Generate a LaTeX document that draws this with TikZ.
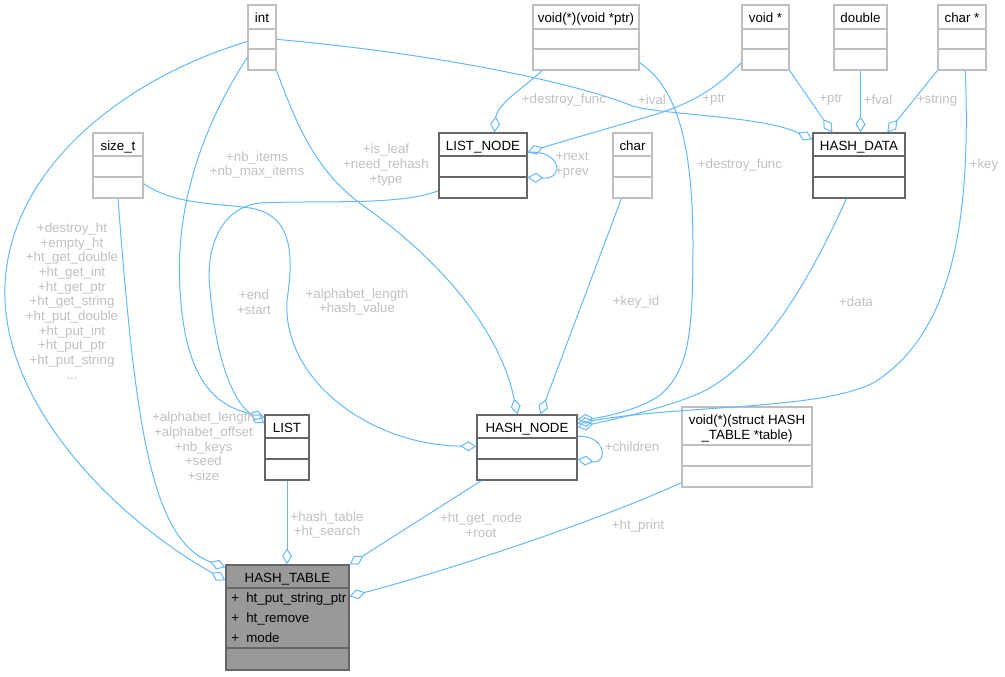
\documentclass[tikz,border=0pt]{standalone}
\usepackage{fontspec}
\setmainfont{Liberation Sans}
\usetikzlibrary{fit,arrows.meta}
\definecolor{edgeblue}{HTML}{63B8FF}
\definecolor{lblgray}{HTML}{C0C0C0}
\definecolor{typeborder}{HTML}{BFBFBF}
\definecolor{clsborder}{HTML}{666666}
\definecolor{htfill}{HTML}{999999}
\newcommand{\umlcls}[8]{%
  \node[draw=#8, line width=1pt, fill=white, inner sep=0pt, fit={(#2,#3) (#4,#5)}] (#1) {};
  \draw[draw=#8, line width=1pt] (#2,#6) -- (#4,#6) (#2,#7) -- (#4,#7);
}
\begin{document}
\begin{tikzpicture}[x=0.75pt,y=-0.75pt,
  edge/.style={draw=edgeblue, line width=0.75pt, -{Diamond[open,length=12pt,width=7.5pt]}},
  lbl/.style={font=\fontsize{10}{11}\selectfont, text=lblgray, align=center, inner sep=0pt},
  hdr/.style={font=\fontsize{10}{12}\selectfont, anchor=base, inner sep=0pt},
  mem/.style={font=\fontsize{10}{12}\selectfont, anchor=base west, inner sep=0pt}]
\useasboundingbox (0,0) rectangle (1005,676);

% ---- boxes
\umlcls{int}{248}{5}{276}{70}{29}{49}{typeborder}
\umlcls{voidfp}{533}{5}{639}{70}{29}{49}{typeborder}
\umlcls{voidptr}{742}{5}{789}{70}{29}{49}{typeborder}
\umlcls{double}{834}{5}{887}{70}{29}{49}{typeborder}
\umlcls{charptr}{938}{5}{986}{70}{29}{49}{typeborder}
\umlcls{sizet}{93}{133}{143}{198}{156}{177}{typeborder}
\umlcls{listnode}{439}{133}{527}{198}{156}{177}{clsborder}
\umlcls{char}{613}{133}{652}{198}{156}{177}{typeborder}
\umlcls{hashdata}{813}{133}{905}{198}{156}{177}{clsborder}
\umlcls{list}{265}{415}{309}{480}{438}{459}{clsborder}
\umlcls{hashnode}{477}{415}{577}{480}{438}{459}{clsborder}
\umlcls{printfp}{682}{407}{812}{487}{445}{466}{typeborder}
\node[draw=clsborder, line width=1pt, fill=htfill, inner sep=0pt, fit={(226,565) (349,670)}] (hashtable) {};
\draw[draw=clsborder, line width=1pt] (226,588) -- (349,588) (226,648) -- (349,648);

% ---- box texts
\node[hdr] (t-int) at (262,22.5) {int};
\node[hdr] (t-voidfp) at (586,22.5) {void(*)(void *ptr)};
\node[hdr] (t-voidptr) at (765.5,22.5) {void *};
\node[hdr] (t-double) at (860.5,22.5) {double};
\node[hdr] (t-charptr) at (962,22.5) {char *};
\node[hdr] (t-sizet) at (118,150.5) {size\_t};
\node[hdr] (t-listnode) at (483,150.5) {LIST\_NODE};
\node[hdr] (t-char) at (632.5,150.5) {char};
\node[hdr] (t-hashdata) at (859,150.5) {HASH\_DATA};
\node[hdr] (t-list) at (287,432.5) {LIST};
\node[hdr] (t-hashnode) at (527,432.5) {HASH\_NODE};
\node[hdr] (t-printfp1) at (747,424.5) {void(*)(struct HASH};
\node[hdr] (t-printfp2) at (747,439.5) {\_TABLE *table)};
\node[hdr] (t-hashtable) at (287.5,582.5) {HASH\_TABLE};
\node[mem] (p1) at (231,602) {+};
\node[mem] (m1) at (246,602) {ht\_put\_string\_ptr};
\node[mem] (p2) at (231,622) {+};
\node[mem] (m2) at (246,622) {ht\_remove};
\node[mem] (p3) at (231,642) {+};
\node[mem] (m3) at (246,642) {mode};

% ---- edges
\draw[edge] ([shift={(0,4)}]int.west) .. controls (120,80) and (10,170) .. (5,285) .. controls (0,400) and (110,515) .. ([shift={(0,16)}]hashtable.north west);
\draw[edge] (sizet.south) .. controls (135,420) and (150,540) .. ([shift={(0,3)}]hashtable.north west);
\draw[edge] ([shift={(0,53)}]int.north west) .. controls (200,130) and (175,210) .. (180,290) .. controls (185,380) and (215,405) .. ([shift={(0,3)}]list.north west);
\draw[edge] ([shift={(0,-8)}]listnode.south west) .. controls (400,206) and (320,200) .. (260,203) .. controls (220,207) and (205,250) .. (210,290) .. controls (215,350) and (230,400) .. ([shift={(0,9)}]list.north west);
\draw[edge] (int.south east) .. controls (300,135) and (320,175) .. (365,207) .. controls (440,260) and (500,330) .. ([shift={(41,0)}]hashnode.north west);
\draw[edge] ([shift={(0,-15)}]sizet.south east) .. controls (175,205) and (215,203) .. (250,208) .. controls (295,215) and (293,260) .. (287,300) .. controls (282,380) and (370,445) .. ([shift={(0,32)}]hashnode.north west);
\draw[edge] ([shift={(10,0)}]voidfp.south west) .. controls (520,90) and (497,105) .. ([shift={(56,0)}]listnode.north west);
\draw[edge] ([shift={(0,-8)}]voidptr.south west) .. controls (715,90) and (690,103) .. (660,113) .. controls (610,128) and (560,142) .. ([shift={(0,20)}]listnode.north east);
\draw[edge] ([shift={(0,35)}]int.north east) .. controls (450,55) and (580,85) .. (630,105) .. controls (655,115) and (760,115) .. ([shift={(0,7)}]hashdata.north west);
\draw[edge] (voidptr.south east) -- ([shift={(20,0)}]hashdata.north west);
\draw[edge] (double.south) -- (double.south |- hashdata.north);
\draw[edge] (charptr.south west) -- ([shift={(75,0)}]hashdata.north west);
\draw[edge] ([shift={(0,-8)}]voidfp.south east) .. controls (680,90) and (692,150) .. (693,240) .. controls (693,330) and (690,370) .. (660,395) .. controls (640,410) and (600,418) .. ([shift={(0,5)}]hashnode.north east);
\draw[edge] ([shift={(9,0)}]char.south west) -- ([shift={(64,0)}]hashnode.north west);
\draw[edge] ([shift={(34,0)}]hashdata.south west) .. controls (810,280) and (760,365) .. (700,393) .. controls (660,410) and (610,420) .. ([shift={(0,13)}]hashnode.north east);
\draw[edge] ([shift={(28,0)}]charptr.south west) .. controls (970,200) and (960,330) .. (873,383) .. controls (820,410) and (680,405) .. ([shift={(0,9)}]hashnode.north east);
\draw[edge] ([shift={(0,20)}]listnode.north east) .. controls +(33,-3) and +(38,2) .. ([shift={(0,45)}]listnode.north east);
\draw[edge] ([shift={(0,22)}]hashnode.north east) .. controls +(28,-2) and +(31,5) .. ([shift={(0,45)}]hashnode.north east);
\draw[edge] (list.south) -- (list.south |- hashtable.north);
\draw[edge] ([shift={(5,0)}]hashnode.south west) -- (hashtable.north east);
\draw[edge] ([shift={(0,-5)}]printfp.south west) .. controls (600,520) and (450,570) .. ([shift={(0,32)}]hashtable.north east);

% ---- edge labels
\node[lbl] (l-ht) at (72,301) {+destroy\_ht\\+empty\_ht\\+ht\_get\_double\\+ht\_get\_int\\+ht\_get\_ptr\\+ht\_get\_string\\+ht\_put\_double\\+ht\_put\_int\\+ht\_put\_ptr\\+ht\_put\_string\\...};
\node[lbl] (l-nb) at (257,165) {+nb\_items\\+nb\_max\_items};
\node[lbl] (l-leaf) at (386,165) {+is\_leaf\\+need\_rehash\\+type};
\node[lbl] (l-df1) at (564,100) {+destroy\_func};
\node[lbl] (l-ival) at (652,100) {+ival};
\node[lbl] (l-ptr1) at (714,100) {+ptr};
\node[lbl] (l-ptr2) at (831,100) {+ptr};
\node[lbl] (l-fval) at (878,100) {+fval};
\node[lbl] (l-str) at (937,100) {+string};
\node[lbl] (l-key) at (984,165) {+key};
\node[lbl] (l-df2) at (740,165) {+destroy\_func};
\node[lbl] (l-next) at (572,165) {+next\\+prev};
\node[lbl] (l-end) at (254,302) {+end\\+start};
\node[lbl] (l-alhv) at (357,302) {+alphabet\_length\\+hash\_value};
\node[lbl] (l-keyid) at (636,302) {+key\_id};
\node[lbl] (l-data) at (856,302) {+data};
\node[lbl] (l-size) at (203.5,446.5) {+alphabet\_length\\+alphabet\_offset\\+nb\_keys\\+seed\\+size};
\node[lbl] (l-child) at (632,447) {+children};
\node[lbl] (l-hts) at (327,525) {+hash\_table\\+ht\_search};
\node[lbl] (l-root) at (481,525) {+ht\_get\_node\\+root};
\node[lbl] (l-print) at (638,526) {+ht\_print};
\end{tikzpicture}
\end{document}
